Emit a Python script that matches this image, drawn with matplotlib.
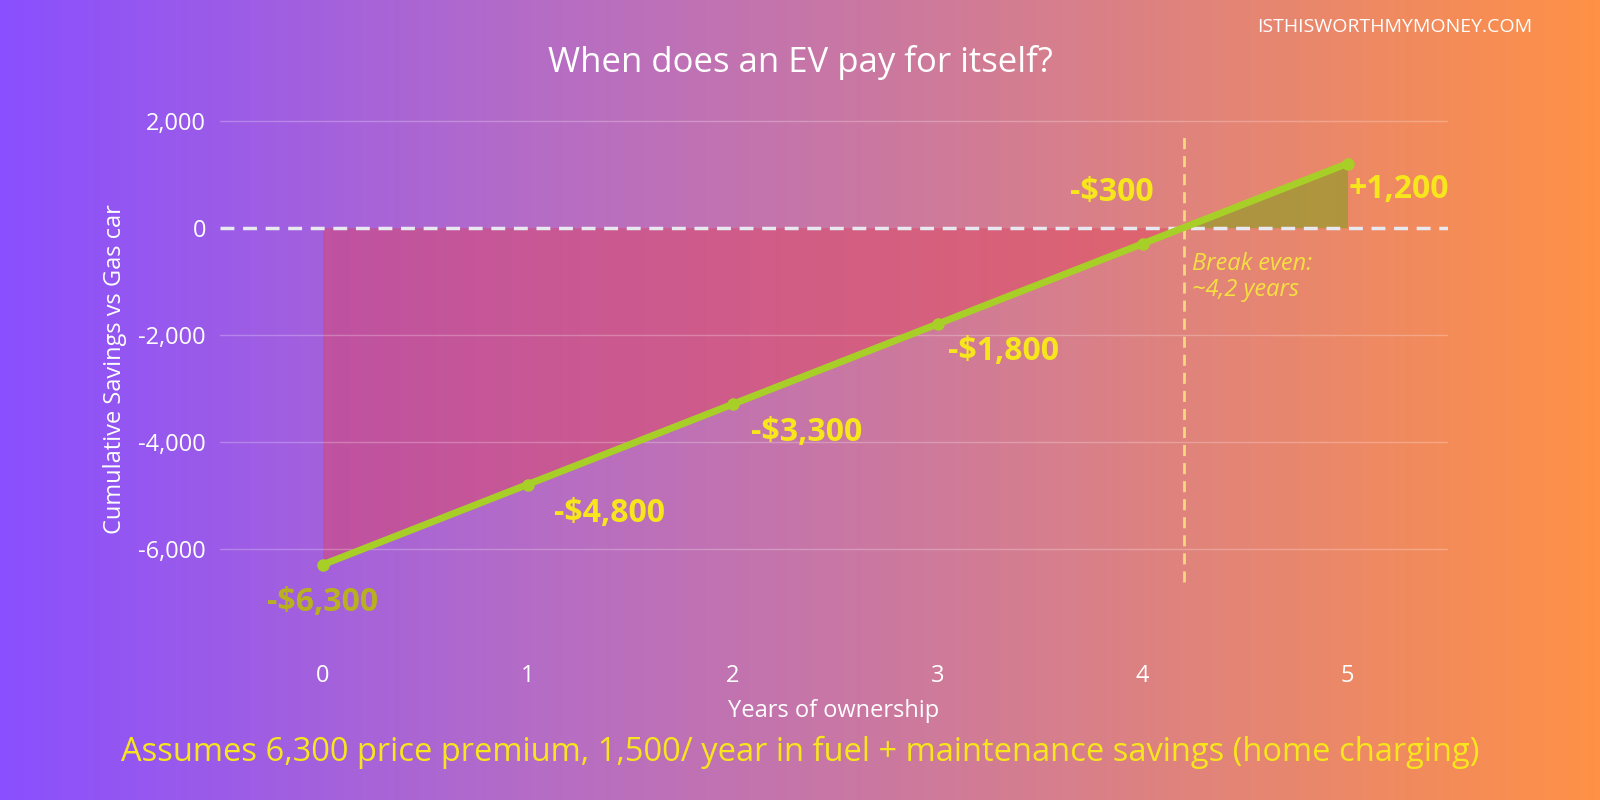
import numpy as np
import matplotlib
matplotlib.use("Agg")
import matplotlib.pyplot as plt
from matplotlib.colors import LinearSegmentedColormap

years = [0, 1, 2, 3, 4, 5]
savings = [-6300, -4800, -3300, -1800, -300, 1200]
labels = ["-$6,300", "-$4,800", "-$3,300", "-$1,800", "-$300", "+1,200"]
label_pos = [(0, -7000), (1.4, -5350), (2.36, -3830), (3.32, -2320), (3.85, 650), (5.25, 710)]
breakeven = 4.2

plt.rcParams['font.family'] = ['Open Sans', 'DejaVu Sans']
fig = plt.figure(figsize=(16, 8), dpi=100)
bg = fig.add_axes([0, 0, 1, 1])
cmap = LinearSegmentedColormap.from_list("bg", ["#8A50FF", "#B56CC6", "#D77F8C", "#FF9146"])
bg.imshow(np.linspace(0, 1, 512)[None, :], aspect='auto', cmap=cmap, extent=[0, 1, 0, 1])
bg.axis('off')

ax = fig.add_axes([220/1600, 1-629/800, (1448-220)/1600, (629-110)/800])
ax.patch.set_alpha(0)
ax.set_xlim(-0.5, 5.49)
ax.set_ylim(-7500, 2200)
for s in ax.spines.values():
    s.set_visible(False)
ax.set_yticks([-6000, -4000, -2000, 0, 2000])
ax.set_yticklabels(["-6,000", "-4,000", "-2,000", "0", "2,000"])
ax.set_xticks(years)
ax.tick_params(colors='white', labelsize=17, length=0, pad=10)
ax.tick_params(axis='x', pad=25)
for y in [-6000, -4000, -2000, 2000]:
    ax.axhline(y, color='white', alpha=0.25, lw=1)
ax.axhline(0, color='#e8e8f0', lw=2.5, ls=(0, (4, 2.5)))

xs = np.linspace(0, breakeven, 100)
ys = np.interp(xs, years, savings)
ax.fill_between(xs, ys, 0, color='#E0405A', alpha=0.45, lw=0)
xs2 = np.linspace(breakeven, 5, 50)
ys2 = np.interp(xs2, years, savings)
ax.fill_between(xs2, 0, ys2, color='#9A9A30', alpha=0.75, lw=0)

ax.plot(years, savings, color='#A8CF28', lw=5, marker='o', ms=8, zorder=5)
ax.axvline(breakeven, ymin=0.09, ymax=0.955, color='#F5D880', lw=2, ls=(0, (4, 2.5)))
ax.text(breakeven + 0.04, -450, "Break even:\n~4,2 years", color='#F5E040', fontsize=17,
        style='italic', va='top', ha='left', linespacing=1.1)

for i, (t, (x, y)) in enumerate(zip(labels, label_pos)):
    ax.text(x, y, t, color='#B8B020' if i == 0 else '#F7E61C', fontsize=23,
            fontweight='bold', ha='center', va='center', zorder=6)

ax.set_xlabel("Years of ownership", color='white', fontsize=17, labelpad=8)
ax.set_ylabel("Cumulative Savings vs Gas car", color='white', fontsize=17, labelpad=8)
fig.text(0.5, 1-62/800, "When does an EV pay for itself?", color='white', fontsize=25,
         ha='center', va='center')
fig.text(1532/1600, 1-27/800, "ISTHISWORTHMYMONEY.COM", color='white', fontsize=14,
         ha='right', va='center')
fig.text(0.5, 1-752/800, "Assumes 6,300 price premium, 1,500/ year in fuel + maintenance savings (home charging)",
         color='#F7E61C', fontsize=23.5, ha='center', va='center')
fig.savefig("out.png", dpi=100)
